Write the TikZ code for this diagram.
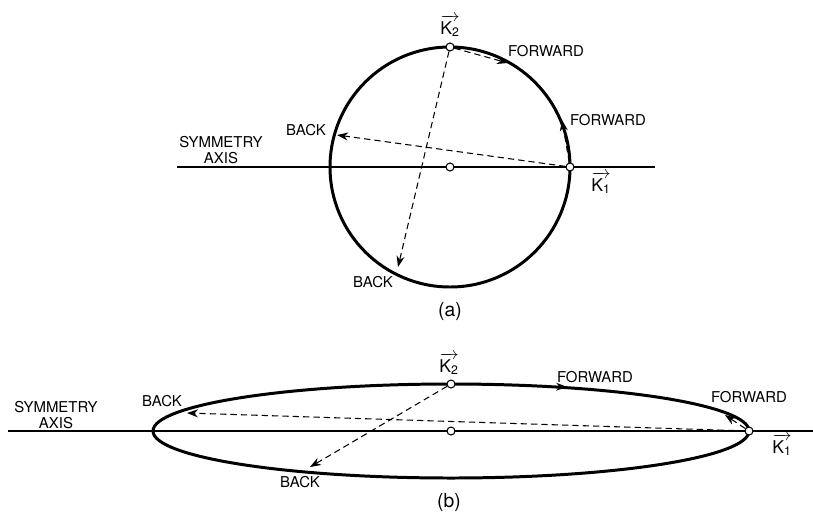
\documentclass[tikz,border=0pt]{standalone}
\usepackage{amsmath}
\usepackage{fontspec}
\setmainfont{TeX Gyre Heros}
\usetikzlibrary{arrows.meta,positioning}
\newcommand{\kvec}[1]{$\overrightarrow{\text{K}_{\text{#1}}}$}

\begin{document}
\begin{tikzpicture}[x=0.02cm, y=0.02cm, >=Stealth,
  pt/.style={circle, draw, fill=white, line width=0.6pt, inner sep=0pt, minimum size=0.16cm},
  lbl/.style={font=\fontsize{8.5}{9}\selectfont, inner sep=0pt, align=center},
  klbl/.style={lbl, font=\fontsize{10}{11}\selectfont},
  caption/.style={lbl, font=\fontsize{11}{12}\selectfont},
  axisline/.style={line width=0.8pt},
  curve/.style={line width=1.7pt},
  dsh/.style={-{Stealth[length=2.2mm, width=1.6mm]}, line width=0.6pt, dash pattern=on 3.6pt off 2.3pt}]
\path[use as bounding box] (0,0) rectangle (813,515);
\coordinate (C1) at (450,348);
\coordinate (axL1) at (177,348);
\coordinate (axR1) at (655,348);
\draw[axisline] (axL1) -- (axR1);
\draw[curve] (C1) circle [radius=120];
\node[pt] (O1) at (C1) {};
\node[pt] (K1a) at (570,348) {};
\node[pt] (K2a) at (450,468) {};
\coordinate (Ba1) at (337,380);
\coordinate (Ba2) at (398,248);
\coordinate (Fa1) at (508,452);
\coordinate (Fa2) at (562,395);
\draw[dsh] (K1a) -- (Ba1);
\draw[dsh] (K2a) -- (Ba2);
\draw[dsh] (K2a) -- (Fa1);
\draw[dsh] (K1a) -- (Fa2);
\node[klbl] (k2a) at (450,489) {\kvec{2}};
\node[klbl] (k1a) at (601,332) {\kvec{1}};
\node[lbl] (fwa1) at (546,464) {FORWARD};
\node[lbl] (fwa2) at (608,395) {FORWARD};
\node[lbl] (bka1) at (306,385) {BACK};
\node[lbl] (bka2) at (373,233) {BACK};
\node[lbl] (syma) at (221,365) {SYMMETRY\\AXIS};
\node[caption] (capa) at (450,204) {(a)};
\coordinate (C2) at (451,84);
\coordinate (axL2) at (8,84);
\coordinate (axR2) at (813,84);
\draw[axisline] (axL2) -- (axR2);
\draw[curve] (C2) ellipse [x radius=298, y radius=47];
\node[pt] (O2) at (C2) {};
\node[pt] (K1b) at (749,84) {};
\node[pt] (K2b) at (451,131) {};
\coordinate (Bb1) at (187,102);
\coordinate (Bb2) at (310,48);
\coordinate (Fb1) at (567,128);
\coordinate (Fb2) at (725,100);
\draw[dsh] (K1b) -- (Bb1);
\draw[dsh] (K2b) -- (Bb2);
\draw[dsh] (K2b) -- (Fb1);
\draw[dsh] (K1b) -- (Fb2);
\node[klbl] (k2b) at (449,151) {\kvec{2}};
\node[klbl] (k1b) at (782,70) {\kvec{1}};
\node[lbl] (fwb1) at (595,138) {FORWARD};
\node[lbl] (fwb2) at (749,118) {FORWARD};
\node[lbl] (bkb1) at (162,114) {BACK};
\node[lbl] (bkb2) at (300,33) {BACK};
\node[lbl] (symb) at (56,100) {SYMMETRY\\AXIS};
\node[caption] (capb) at (449,13) {(b)};
\end{tikzpicture}
\end{document}
